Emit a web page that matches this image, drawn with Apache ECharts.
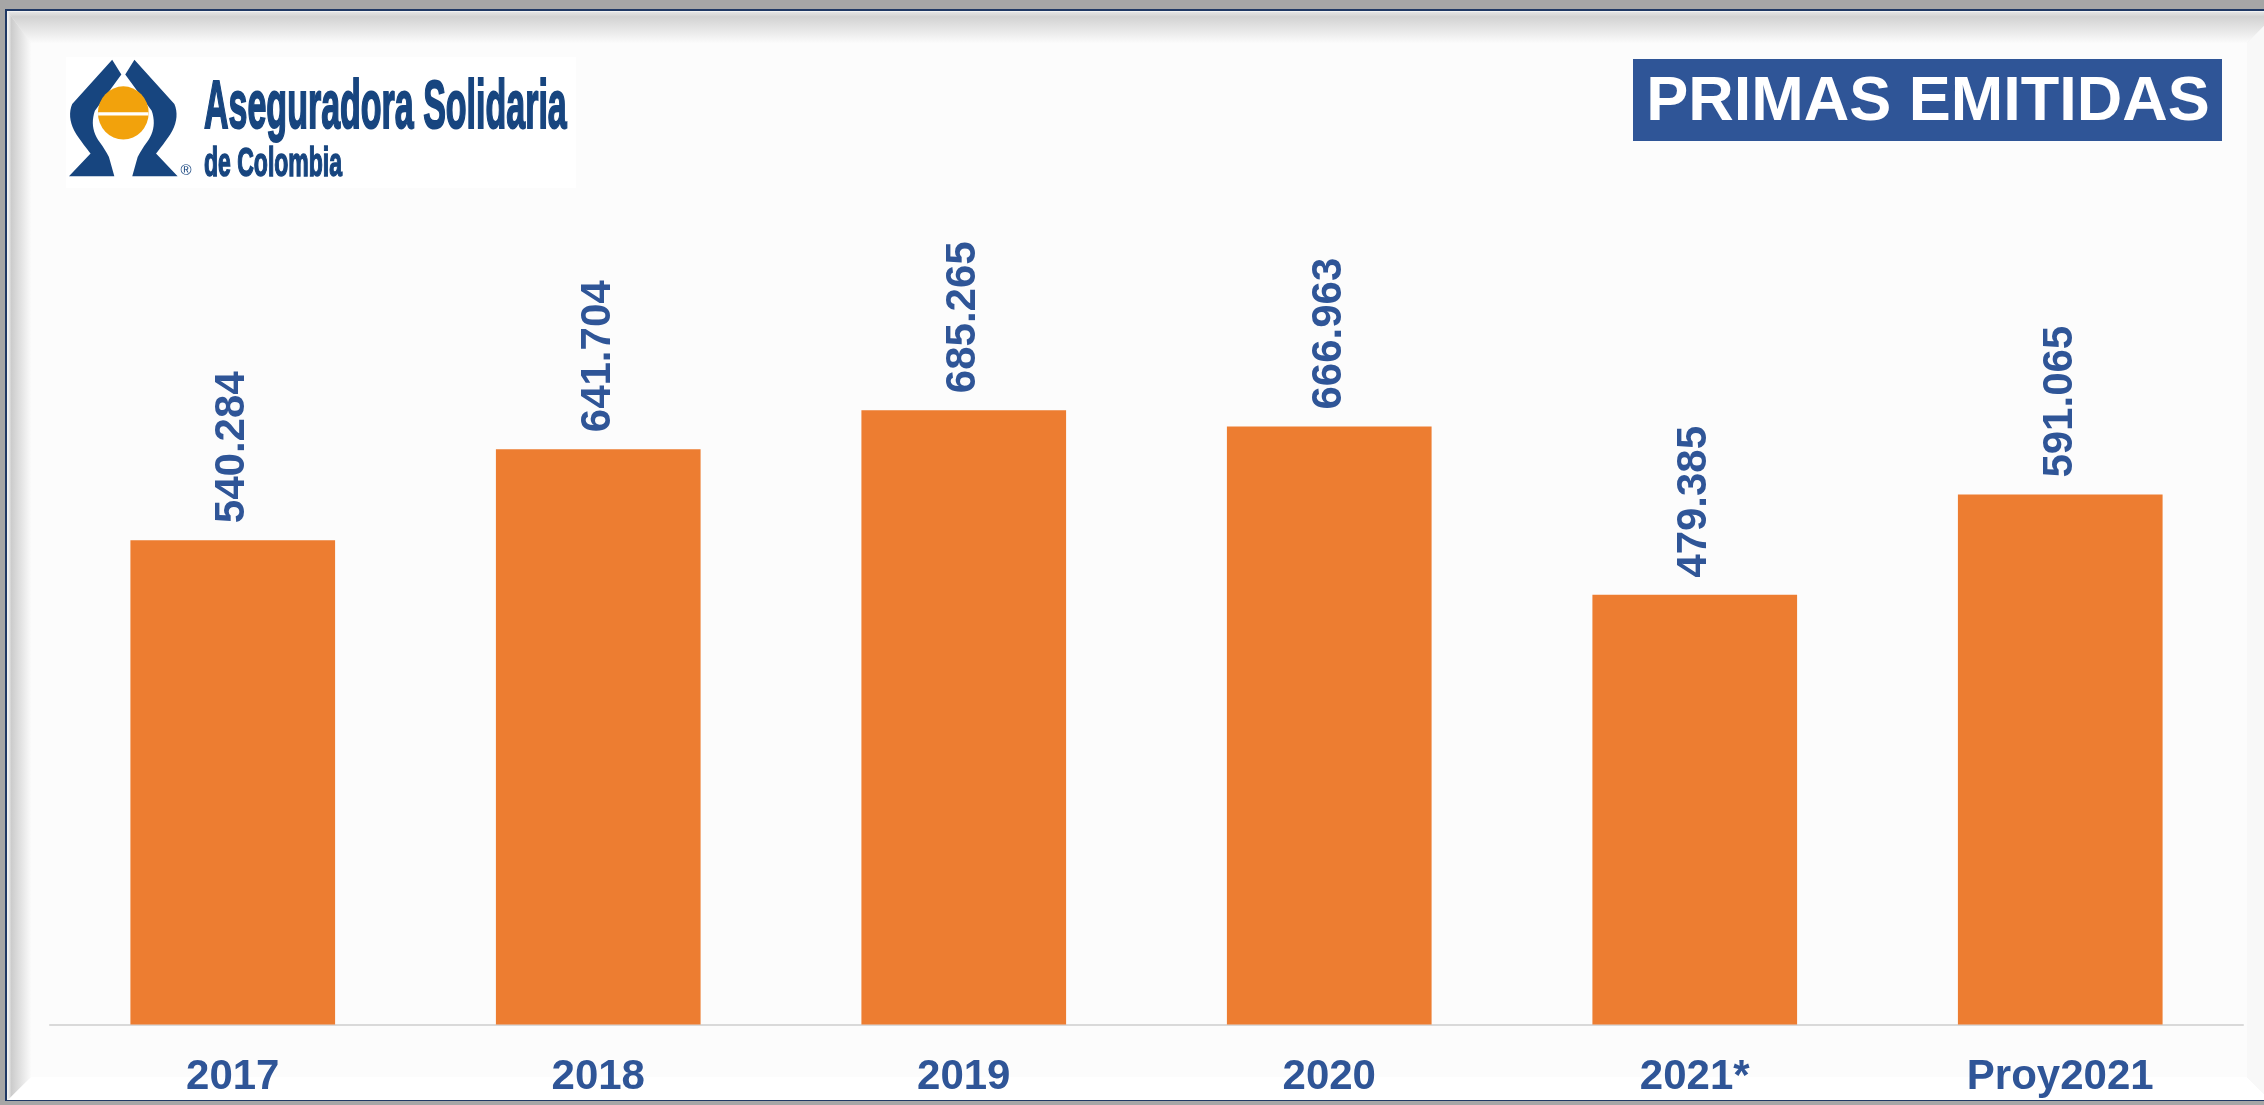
<!DOCTYPE html>
<html><head><meta charset="utf-8">
<script src="https://cdn.jsdelivr.net/npm/echarts@6/dist/echarts.min.js"></script>
<style>html,body{margin:0;padding:0;background:#A6A6A6;overflow:hidden;}#c{width:2264px;height:1105px;}</style>
</head><body><div id="c"></div>
<script>
// ---- data ----
const categories = ['2017', '2018', '2019', '2020', '2021*', 'Proy2021'];
const primas = [540284, 641704, 685265, 666963, 479385, 591065];
const titleText = 'PRIMAS EMITIDAS';
const logoLine1 = 'Aseguradora Solidaria';
const logoLine2 = 'de Colombia';

function fmt(v) { return String(v).replace(/\B(?=(\d{3})+(?!\d))/g, '.'); }

const BLUE = '#2F5597';
const NAVY = '#17457F';
const ORANGE = '#F2A20C';
const FONT = '"Liberation Sans", Arial, sans-serif';

// logo shape outline: segments of lines ('L') and quadratic curves ('Q')
function outline(segs) {
  const pts = [segs[0].slice(1)];
  let cur = pts[0];
  for (let i = 1; i < segs.length; i++) {
    const s = segs[i];
    if (s[0] === 'L') { cur = [s[1], s[2]]; pts.push(cur); }
    else {
      const c = [s[1], s[2]], e = [s[3], s[4]];
      for (let t = 1; t <= 10; t++) {
        const u = t / 10, a = (1 - u) * (1 - u), b = 2 * u * (1 - u), d = u * u;
        pts.push([a * cur[0] + b * c[0] + d * e[0], a * cur[1] + b * c[1] + d * e[1]]);
      }
      cur = e;
    }
  }
  return pts;
}
const bandSegs = [['M', 53, 13], ['L', 16, 52], ['Q', 10, 66, 22, 82], ['Q', 28, 90, 33, 96], ['L', 13, 116], ['L', 55, 116],
  ['L', 50, 99], ['Q', 45, 90, 40, 84], ['Q', 32, 72, 37, 58], ['L', 61.5, 26]];
const leftBand = outline(bandSegs);
const rightBand = leftBand.map(p => [126.6 - p[0], p[1]]);

const chart = echarts.init(document.getElementById('c'), null, { renderer: 'canvas' });

const option = {
  backgroundColor: '#A6A6A6',
  animation: false,
  graphic: [
    { type: 'rect', z: -10, shape: { x: 5, y: 9, width: 2259, height: 1092 }, style: { fill: '#1F3864' } },
    { type: 'rect', z: -9, shape: { x: 7, y: 11, width: 2257, height: 1089 }, style: { fill: '#F2F2F2' } },
    { type: 'polygon', z: -8, shape: { points: [[8, 12], [2264, 12], [2264, 26], [2247, 43], [31, 43]] },
      style: { fill: { type: 'linear', x: 0, y: 0, x2: 0, y2: 1, colorStops: [
        { offset: 0, color: '#E4E4E4' }, { offset: 0.15, color: '#D2D2D2' }, { offset: 1, color: '#FBFBFB' }] } } },
    { type: 'polygon', z: -8, shape: { points: [[8, 12], [31, 43], [31, 1077], [8, 1100]] },
      style: { fill: { type: 'linear', x: 0, y: 0, x2: 1, y2: 0, colorStops: [
        { offset: 0, color: '#F2F2F2' }, { offset: 0.15, color: '#CCCCCC' }, { offset: 1, color: '#FBFBFB' }] } } },
    { type: 'polygon', z: -8, shape: { points: [[8, 1100], [31, 1077], [2247, 1077], [2264, 1094], [2264, 1100]] }, style: { fill: '#FFFFFF' } },
    { type: 'polygon', z: -8, shape: { points: [[2264, 26], [2247, 43], [2247, 1077], [2264, 1094]] }, style: { fill: '#F8F8F8' } },
    { type: 'rect', z: -7, shape: { x: 31, y: 43, width: 2216, height: 1034 }, style: { fill: '#FCFCFC' } },
    // logo
    { type: 'rect', z: -6, shape: { x: 66, y: 57, width: 510, height: 131 }, style: { fill: '#FFFFFF' } },
    { type: 'group', x: 60, y: 53.5, z: 5, scaleX: 1.08, scaleY: 1.13, originX: 63.3, originY: 64.5, children: [
      { type: 'polygon', shape: { points: leftBand }, style: { fill: NAVY } },
      { type: 'polygon', shape: { points: rightBand }, style: { fill: NAVY } },
      { type: 'circle', shape: { cx: 63.3, cy: 60, r: 23.5 }, style: { fill: ORANGE } },
      { type: 'rect', shape: { x: 40, y: 59.5, width: 46.6, height: 2.8 }, style: { fill: '#FFFFFF' } }
    ] },
    { type: 'text', x: 186, y: 171, z: 5, style: { text: '®', fill: NAVY, font: '15px ' + FONT, align: 'center', verticalAlign: 'middle' } },
    { type: 'text', x: 204, y: 109, scaleX: 0.5, z: 5,
      style: { text: logoLine1, fill: NAVY, font: 'bold 68px ' + FONT, align: 'left', verticalAlign: 'middle', stroke: NAVY, lineWidth: 2 } },
    { type: 'text', x: 204, y: 164.5, scaleX: 0.575, z: 5,
      style: { text: logoLine2, fill: NAVY, font: 'bold 40px ' + FONT, align: 'left', verticalAlign: 'middle', stroke: NAVY, lineWidth: 1.5 } },
    // title box
    { type: 'rect', z: 5, shape: { x: 1633, y: 59, width: 589, height: 82 }, style: { fill: BLUE } },
    { type: 'text', x: 1928, y: 103, z: 6, style: { text: titleText, fill: '#FFFFFF', font: 'bold 63px ' + FONT, align: 'center', verticalAlign: 'middle' } }
  ],
  grid: { left: 50, right: 21, top: 128, bottom: 80.5, containLabel: false },
  xAxis: {
    type: 'category',
    data: categories,
    axisLine: { show: true, lineStyle: { color: '#D9D9D9', width: 2 } },
    axisTick: { show: false },
    axisLabel: { color: BLUE, fontSize: 42, fontWeight: 'bold', fontFamily: FONT, margin: 32 }
  },
  yAxis: { type: 'value', min: 0, max: 1000000, show: false, splitLine: { show: false } },
  series: [{
    type: 'bar',
    data: primas,
    barCategoryGap: '44%',
    itemStyle: { color: '#ED7D31' },
    label: {
      show: true, position: 'top', rotate: 90, align: 'left', verticalAlign: 'middle', distance: 17,
      color: BLUE, fontSize: 42, fontWeight: 'bold', fontFamily: FONT,
      formatter: p => fmt(p.value)
    }
  }]
};
chart.setOption(option);
</script>
</body></html>
